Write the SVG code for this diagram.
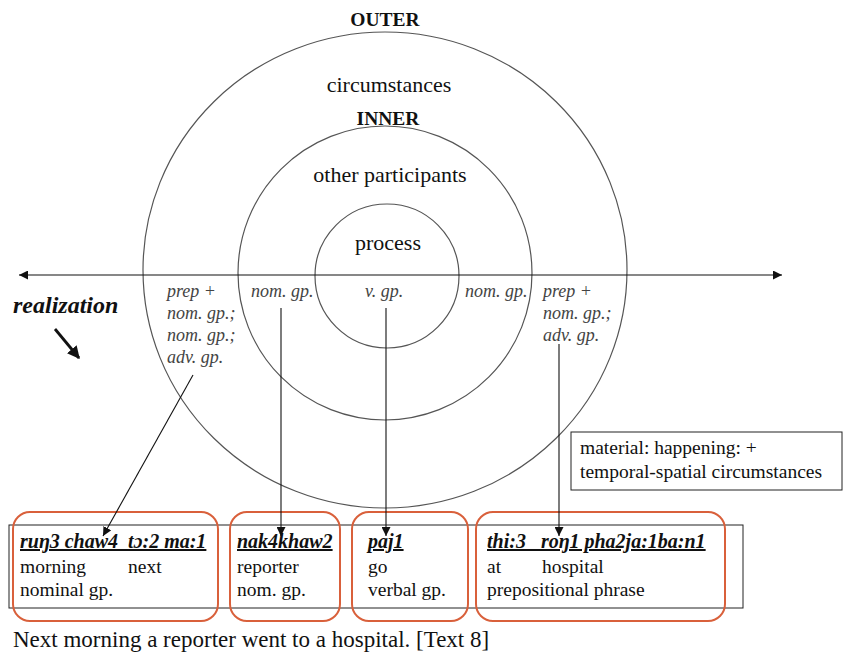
<svg xmlns="http://www.w3.org/2000/svg" width="846" height="657" viewBox="0 0 846 657">
  <style>
    .ring { fill: none; stroke: #555; stroke-width: 1.2; }
    .lbl { font-family: "Liberation Serif", "Times New Roman", serif; fill: #111; }
    .ring-title { font-size: 22px; text-anchor: middle; }
    .layer { font-size: 19.5px; font-weight: bold; text-anchor: middle; }
    .real { font-family: "Liberation Serif", "Times New Roman", serif; font-size: 18px; font-style: italic; fill: #444; }
    .txt { font-family: "Liberation Serif", "Times New Roman", serif; font-size: 19.5px; fill: #111; }
    .head { font-size: 20px; font-weight: bold; font-style: italic; text-decoration: underline; }
    .caption { font-size: 23px; }
    .group { fill: none; stroke: #d9603b; stroke-width: 2; }
    .conn { stroke: #111; stroke-width: 1.1; fill: none; }
  </style>
  <defs>
    <marker id="tip" viewBox="0 0 10 10" refX="10" refY="5" markerWidth="9" markerHeight="9" markerUnits="userSpaceOnUse" orient="auto-start-reverse">
      <path d="M0,0 L10,5 L0,10 z" fill="#111"/>
    </marker>
    <marker id="tipBig" viewBox="0 0 10 10" refX="9" refY="5" markerWidth="4.5" markerHeight="4.5" orient="auto">
      <path d="M0,0 L10,5 L0,10 z" fill="#111"/>
    </marker>
  </defs>
  <rect width="846" height="657" fill="#fff"/>

  <!-- concentric rings -->
  <g id="outer">
    <ellipse class="ring" cx="385" cy="270" rx="242" ry="238"/>
    <text class="lbl layer" x="385" y="26">OUTER</text>
    <text class="lbl ring-title" x="389" y="92">circumstances</text>
  </g>
  <g id="inner">
    <circle class="ring" cx="385" cy="273" r="147"/>
    <text class="lbl layer" x="388" y="125">INNER</text>
    <text class="lbl ring-title" x="390" y="182">other participants</text>
  </g>
  <g id="process">
    <circle class="ring" cx="387" cy="276" r="72"/>
    <text class="lbl ring-title" x="388" y="250">process</text>
  </g>

  <!-- realization axis -->
  <g id="axis">
    <line class="conn" x1="19" y1="275" x2="782" y2="275" marker-start="url(#tip)" marker-end="url(#tip)"/>
    <text x="13" y="313" font-family="Liberation Serif, serif" font-size="24" font-weight="bold" font-style="italic" fill="#111">realization</text>
    <line x1="55" y1="329" x2="79" y2="358" stroke="#111" stroke-width="2.8" marker-end="url(#tipBig)"/>
  </g>

  <!-- realization labels on the axis -->
  <g id="realizations">
    <text class="real" x="167" y="297">prep +</text>
    <text class="real" x="167" y="319">nom. gp.;</text>
    <text class="real" x="167" y="341">nom. gp.;</text>
    <text class="real" x="167" y="363">adv. gp.</text>
    <text class="real" x="251" y="297">nom. gp.</text>
    <text class="real" x="365" y="297">v. gp.</text>
    <text class="real" x="465" y="297">nom. gp.</text>
    <text class="real" x="543" y="297">prep +</text>
    <text class="real" x="543" y="319">nom. gp.;</text>
    <text class="real" x="543" y="341">adv. gp.</text>
  </g>

  <!-- process-type note -->
  <g id="note">
    <rect x="571" y="432" width="271" height="58" fill="#fff" stroke="#222" stroke-width="1"/>
    <text class="txt" x="580" y="454">material: happening: +</text>
    <text class="txt" x="580" y="478">temporal-spatial circumstances</text>
  </g>

  <!-- clause frame -->
  <rect x="9" y="525" width="734" height="83" fill="none" stroke="#222" stroke-width="1"/>

  <g id="g-circ1">
    <rect class="group" x="13" y="512" width="205" height="109" rx="17"/>
    <text class="txt head" x="20" y="548" xml:space="preserve">ruŋ3 chaw4  tɔ:2 ma:1</text>
    <text class="txt" x="20" y="573">morning</text>
    <text class="txt" x="128" y="573">next</text>
    <text class="txt" x="20" y="596">nominal gp.</text>
  </g>
  <g id="g-actor">
    <rect class="group" x="230" y="512" width="110" height="109" rx="17"/>
    <text class="txt head" x="237" y="548">nak4khaw2</text>
    <text class="txt" x="237" y="573">reporter</text>
    <text class="txt" x="237" y="596">nom. gp.</text>
  </g>
  <g id="g-process">
    <rect class="group" x="352" y="512" width="116" height="109" rx="17"/>
    <text class="txt head" x="368" y="548">paj1</text>
    <text class="txt" x="368" y="573">go</text>
    <text class="txt" x="368" y="596">verbal gp.</text>
  </g>
  <g id="g-circ2">
    <rect class="group" x="476" y="512" width="249" height="109" rx="17"/>
    <text class="txt head" x="487" y="548" xml:space="preserve">thi:3   roŋ1 pha2ja:1ba:n1</text>
    <text class="txt" x="487" y="573">at</text>
    <text class="txt" x="542" y="573">hospital</text>
    <text class="txt" x="487" y="596">prepositional phrase</text>
  </g>

  <!-- connectors from realization labels to clause constituents -->
  <g id="connectors">
    <line class="conn" x1="193" y1="375" x2="103" y2="536" marker-end="url(#tip)"/>
    <line class="conn" x1="281" y1="308" x2="281" y2="536" marker-end="url(#tip)"/>
    <line class="conn" x1="386" y1="308" x2="386" y2="536" marker-end="url(#tip)"/>
    <line class="conn" x1="559" y1="344" x2="559" y2="536" marker-end="url(#tip)"/>
  </g>

  <text class="txt caption" x="13" y="647">Next morning a reporter went to a hospital. [Text 8]</text>
</svg>
